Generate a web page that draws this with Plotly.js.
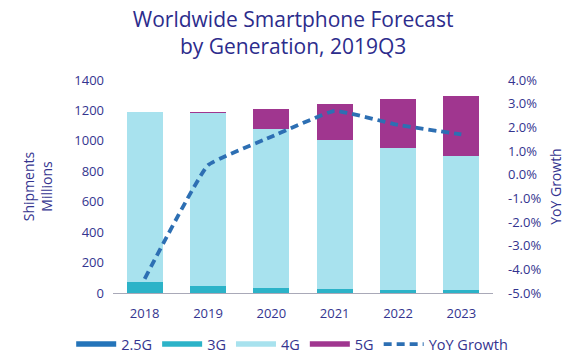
<!DOCTYPE html>
<html>
<head>
<meta charset="utf-8">
<script src="https://cdn.plot.ly/plotly-3.0.1.min.js"></script>
<style>html,body{margin:0;padding:0;background:#fff;}#chart{width:576px;height:357px;}</style>
</head>
<body>
<div id="chart"></div>
<script>
const years = ['2018','2019','2020','2021','2022','2023'];
const g25 = [3, 2, 1, 1, 1, 1];
const g3 = [71, 44, 30, 25, 19, 19];
const g4 = [1115, 1136, 1046, 978, 934, 881];
const g5 = [0, 9, 133, 239, 318, 393];
const yoy = [-4.4, 0.4, 1.6, 2.7, 2.1, 1.7];
const leftTicks = [0, 200, 400, 600, 800, 1000, 1200, 1400];
const rightTicks = [-5, -4, -3, -2, -1, 0, 1, 2, 3, 4];

const C25 = '#2474b9', C3 = '#2cb3c8', C4 = '#a8e2ee', C5 = '#a0368f', CL = '#2d6fb3';
const txt = '#34348f';

const barSeries = [['2.5G', g25, C25], ['3G', g3, C3], ['4G', g4, C4], ['5G', g5, C5]];
const traces = [];
barSeries.forEach(([name, vals, col]) => {
  traces.push({type: 'bar', x: years, y: vals, name: name, marker: {color: col},
    showlegend: false, width: 0.57, hoverinfo: 'y'});
});
barSeries.forEach(([name, vals, col]) => {
  traces.push({type: 'scatter', mode: 'lines', x: [null], y: [null], name: name,
    line: {color: col, width: 5.5}, showlegend: true});
});
traces.push({type: 'scatter', mode: 'lines', x: years, y: yoy, name: 'YoY Growth',
  yaxis: 'y2', line: {color: CL, width: 3.8, dash: '8px,5px', shape: 'spline', smoothing: 0.3}});

const layout = {
  width: 576, height: 357,
  margin: {l: 113, r: 83, t: 80, b: 64, autoexpand: false},
  paper_bgcolor: '#fff', plot_bgcolor: '#fff',
  font: {family: 'Open Sans, Noto Sans, sans-serif', color: txt, size: 13},
  barmode: 'stack', bargap: 0.43,
  title: {text: 'Worldwide Smartphone Forecast<br>by Generation, 2019Q3',
    font: {size: 21, color: '#2c2c8c'}, x: 0.509, xanchor: 'center', xref: 'container',
    y: 0.925, yref: 'container', yanchor: 'middle'},
  xaxis: {type: 'category', showgrid: false, showline: true, linecolor: '#a9a9b8', linewidth: 1,
    ticks: '', ticklabelstandoff: 8, tickfont: {size: 13, color: txt}},
  yaxis: {range: [0, 1400], tickvals: leftTicks, showgrid: false, zeroline: false, showline: false,
    ticks: '', ticklabelstandoff: 8, tickfont: {size: 13, color: txt},
    title: {text: 'Shipments<br>Millions', font: {size: 14, color: txt}, standoff: 18}},
  yaxis2: {overlaying: 'y', side: 'right', range: [-5, 4], tickvals: rightTicks,
    ticktext: rightTicks.map(v => v.toFixed(1) + '%'), showgrid: false, zeroline: false,
    showline: false, ticks: '', ticklabelstandoff: 14, tickfont: {size: 13, color: txt},
    title: {text: 'YoY Growth', font: {size: 14, color: txt}, standoff: 10}},
  legend: {orientation: 'h', xref: 'paper', yref: 'paper', x: -0.11, xanchor: 'left',
    y: -0.24, yanchor: 'middle', itemwidth: 40, font: {size: 14.5, color: txt}, traceorder: 'normal'},
  showlegend: true
};
Plotly.newPlot('chart', traces, layout, {displayModeBar: false, staticPlot: true});
</script>
</body>
</html>
